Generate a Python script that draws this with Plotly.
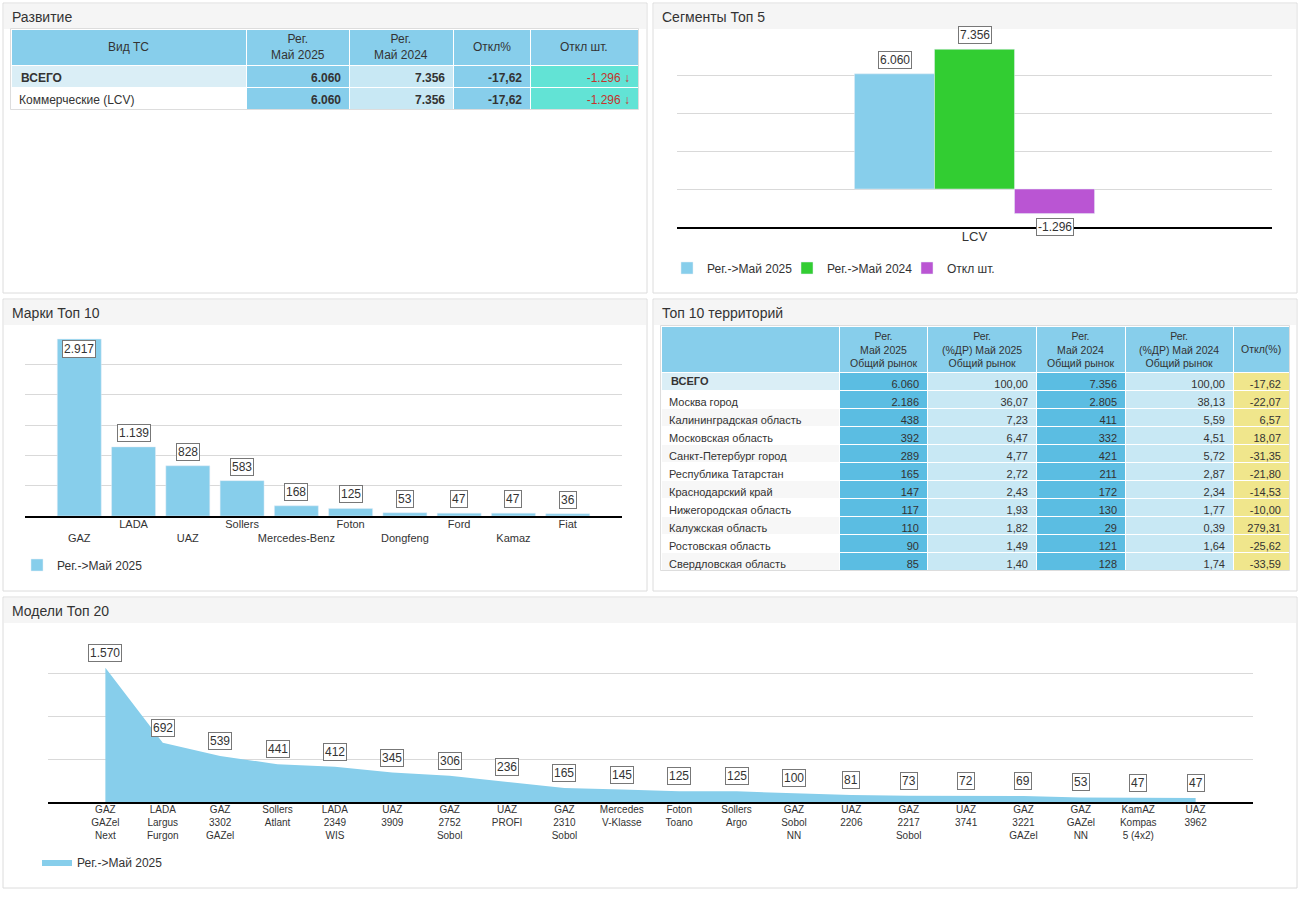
import plotly.graph_objects as go

W, H = 1300, 919
FONT = "Liberation Sans, Arial, sans-serif"
TXT = "#333333"

# ---------------- data ----------------
dev_header = ["Вид ТС", "Рег.<br>Май 2025", "Рег.<br>Май 2024", "Откл%", "Откл шт."]
dev_types = ["ВСЕГО", "Коммерческие (LCV)"]
dev_2025 = [6060, 6060]
dev_2024 = [7356, 7356]
dev_pct = [-17.62, -17.62]
dev_abs = [-1296, -1296]

seg_categories = ["LCV"]
seg_2025 = [6060]
seg_2024 = [7356]
seg_diff = [-1296]

brands = ["GAZ", "LADA", "UAZ", "Sollers", "Mercedes-Benz", "Foton", "Dongfeng", "Ford", "Kamaz", "Fiat"]
brand_values = [2917, 1139, 828, 583, 168, 125, 53, 47, 47, 36]

reg_header = ["", "Рег.<br>Май 2025<br>Общий рынок", "Рег.<br>(%ДР) Май 2025<br>Общий рынок",
              "Рег.<br>Май 2024<br>Общий рынок", "Рег.<br>(%ДР) Май 2024<br>Общий рынок", "Откл(%)"]
regions = ["ВСЕГО", "Москва город", "Калининградская область", "Московская область",
           "Санкт-Петербург город", "Республика Татарстан", "Краснодарский край",
           "Нижегородская область", "Калужская область", "Ростовская область",
           "Свердловская область"]
reg_2025 = [6060, 2186, 438, 392, 289, 165, 147, 117, 110, 90, 85]
share_2025 = [100.00, 36.07, 7.23, 6.47, 4.77, 2.72, 2.43, 1.93, 1.82, 1.49, 1.40]
reg_2024 = [7356, 2805, 411, 332, 421, 211, 172, 130, 29, 121, 128]
share_2024 = [100.00, 38.13, 5.59, 4.51, 5.72, 2.87, 2.34, 1.77, 0.39, 1.64, 1.74]
reg_pct = [-17.62, -22.07, 6.57, 18.07, -31.35, -21.80, -14.53, -10.00, 279.31, -25.62, -33.59]

models = ["GAZ<br>GAZel<br>Next", "LADA<br>Largus<br>Furgon", "GAZ<br>3302<br>GAZel",
          "Sollers<br>Atlant", "LADA<br>2349<br>WIS", "UAZ<br>3909", "GAZ<br>2752<br>Sobol",
          "UAZ<br>PROFI", "GAZ<br>2310<br>Sobol", "Mercedes<br>V-Klasse", "Foton<br>Toano",
          "Sollers<br>Argo", "GAZ<br>Sobol<br>NN", "UAZ<br>2206", "GAZ<br>2217<br>Sobol",
          "UAZ<br>3741", "GAZ<br>3221<br>GAZel", "GAZ<br>GAZel<br>NN",
          "KamAZ<br>Kompas<br>5 (4x2)", "UAZ<br>3962"]
model_values = [1570, 692, 539, 441, 412, 345, 306, 236, 165, 145, 125, 125, 100, 81, 73, 72, 69, 53, 47, 47]

legend_2025 = "Рег.->Май 2025"
legend_2024 = "Рег.->Май 2024"
legend_diff = "Откл шт."


# ---------------- helpers ----------------
def fx(x):
    return x / W


def fy(y):
    return 1 - y / H


def fint(v):
    return f"{v:,}".replace(",", ".")


def fdec(v):
    return f"{v:,.2f}".replace(",", " ").replace(".", ",").replace(" ", ".")


SKY = "#87CEEB"
MID = "#5BBDE2"
LIGHT = "#C8E8F4"
PALE = "#DAEEF6"
TURQ = "#62E3D5"
KHAKI = "#F0E68C"
RED = "#C4342D"
GRID = "#d9d9d9"

fig = go.Figure()
shapes = []
annotations = []

# ---------------- panels ----------------
panels = [(3, 3, 647, 293, "Развитие"),
          (653, 3, 1297, 293, "Сегменты Топ 5"),
          (3, 299, 647, 591, "Марки Топ 10"),
          (653, 299, 1297, 591, "Топ 10 территорий"),
          (3, 597, 1297, 888, "Модели Топ 20")]
for x0, y0, x1, y1, title in panels:
    shapes.append(dict(type="rect", xref="paper", yref="paper", layer="below",
                       x0=fx(x0), x1=fx(x1), y0=fy(y1), y1=fy(y0),
                       fillcolor="white", line=dict(color="#dcdcdc", width=1)))
    shapes.append(dict(type="rect", xref="paper", yref="paper", layer="below",
                       x0=fx(x0 + 1), x1=fx(x1 - 1), y0=fy(y0 + 26), y1=fy(y0 + 1),
                       fillcolor="#f5f5f5", line=dict(width=0)))
    annotations.append(dict(xref="paper", yref="paper", x=fx(x0 + 7), y=fy(y0 + 14),
                            xanchor="left", yanchor="middle", showarrow=False,
                            text=title, font=dict(family=FONT, size=14, color=TXT)))


def header_labels(labels, left, widths, top, height, size):
    """Header captions, vertically centred in the header band."""
    x = left
    for lab, w in zip(labels, widths):
        if lab:
            annotations.append(dict(xref="paper", yref="paper", x=fx(x + w / 2),
                                    y=fy(top + height / 2), xanchor="center", yanchor="middle",
                                    showarrow=False, text=lab, align="center",
                                    font=dict(family=FONT, size=size, color=TXT)))
        x += w


# ---------------- table 1 ----------------
n1 = len(dev_types)
T1_LEFT, T1_TOP, T1_HEAD, T1_ROW = 11, 29, 36, 22
T1_W = [235, 103, 104, 77, 108]
fig.add_trace(go.Table(
    domain=dict(x=[fx(T1_LEFT), fx(T1_LEFT + sum(T1_W))], y=[fy(200), fy(T1_TOP)]),
    columnwidth=T1_W,
    header=dict(values=[""] * len(T1_W), fill_color=SKY, height=T1_HEAD,
                line=dict(color="white", width=1), font=dict(family=FONT, size=12, color=TXT)),
    cells=dict(values=[[""] + dev_types[1:],
                       [fint(v) for v in dev_2025],
                       [fint(v) for v in dev_2024],
                       [fdec(v) for v in dev_pct],
                       [f"{fint(v)} ↓" for v in dev_abs]],
               fill_color=[[PALE] + ["white"] * (n1 - 1), [SKY] * n1, [LIGHT] * n1, [SKY] * n1, [TURQ] * n1],
               align=["left", "right", "right", "right", "right"],
               height=T1_ROW, line=dict(color="white", width=1),
               font=dict(family=FONT, size=12,
                         weight=["normal", "bold", "bold", "bold", "normal"],
                         color=[[TXT] * n1] * 4 + [[RED] * n1]))
))
header_labels(dev_header, T1_LEFT, T1_W, T1_TOP, T1_HEAD, 12)
# bold total label
annotations.append(dict(xref="paper", yref="paper", x=fx(T1_LEFT + 8), y=fy(T1_TOP + T1_HEAD + T1_ROW / 2 + 1.5),
                        xanchor="left", yanchor="middle", showarrow=False, text=f"<b>{dev_types[0]}</b>",
                        font=dict(family=FONT, size=12, color=TXT)))

# ---------------- table 2 ----------------
n2 = len(regions)
T2_LEFT, T2_TOP, T2_HEAD, T2_ROW = 661, 326, 46, 18
T2_W = [178, 88, 109, 89, 108, 56]
name_fill = [PALE] + [("white" if i % 2 == 0 else "#f7f7f7") for i in range(n2 - 1)]
fig.add_trace(go.Table(
    domain=dict(x=[fx(T2_LEFT), fx(T2_LEFT + sum(T2_W))], y=[fy(585), fy(T2_TOP)]),
    columnwidth=T2_W,
    header=dict(values=[""] * len(T2_W), fill_color=SKY, height=T2_HEAD,
                line=dict(color="white", width=1), font=dict(family=FONT, size=10, color=TXT)),
    cells=dict(values=[[""] + regions[1:],
                       [fint(v) for v in reg_2025],
                       [fdec(v) for v in share_2025],
                       [fint(v) for v in reg_2024],
                       [fdec(v) for v in share_2024],
                       [fdec(v) for v in reg_pct]],
               fill_color=[name_fill, [MID] * n2, [LIGHT] * n2, [MID] * n2, [LIGHT] * n2, [KHAKI] * n2],
               align=["left", "right", "right", "right", "right", "right"],
               height=T2_ROW, line=dict(color="white", width=1),
               font=dict(family=FONT, size=11, color=TXT))
))
header_labels(reg_header, T2_LEFT, T2_W, T2_TOP, T2_HEAD, 10.5)
annotations.append(dict(xref="paper", yref="paper", x=fx(T2_LEFT + 8), y=fy(T2_TOP + T2_HEAD + T2_ROW / 2),
                        xanchor="left", yanchor="middle", showarrow=False, text=f"<b>{regions[0]}</b>",
                        font=dict(family=FONT, size=11, color=TXT)))

# ---------------- chart 2: segments ----------------
bar_w = 0.1345
seg_series = [(seg_2025, legend_2025, SKY), (seg_2024, legend_2024, "#32CD32"), (seg_diff, legend_diff, "#BA55D3")]
for i, (vals, name, col) in enumerate(seg_series):
    fig.add_trace(go.Bar(x=seg_categories, y=vals, name=name, marker_color=col,
                         width=bar_w, offset=(i - 1.5) * bar_w,
                         xaxis="x2", yaxis="y2", legend="legend2", hoverinfo="skip"))
    for c, v in zip(seg_categories, vals):
        annotations.append(dict(xref="x2", yref="y2", x=c, y=v, showarrow=False,
                                xshift=(i - 1) * 80, yshift=5 if v >= 0 else -4,
                                yanchor="bottom" if v >= 0 else "top",
                                text=fint(v), bgcolor="white", bordercolor="#777",
                                borderwidth=1, borderpad=1,
                                font=dict(family=FONT, size=12, color=TXT)))

# ---------------- chart 3: brands ----------------
brand_ticks = [(" <br>" + b) if i % 2 == 0 else b for i, b in enumerate(brands)]
fig.add_trace(go.Bar(x=brands, y=brand_values, name=legend_2025, marker_color=SKY,
                     width=0.81, xaxis="x3", yaxis="y3", legend="legend3", hoverinfo="skip"))
y3max = 3000
for b, v in zip(brands, brand_values):
    inside = v > 0.9 * y3max
    annotations.append(dict(xref="x3", yref="y3", x=b, y=v, showarrow=False,
                            yshift=-1 if inside else 5,
                            yanchor="top" if inside else "bottom",
                            text=fint(v), bgcolor="white", bordercolor="#777",
                            borderwidth=1, borderpad=1,
                            font=dict(family=FONT, size=12, color=TXT)))

# ---------------- chart 5: models ----------------
fig.add_trace(go.Scatter(x=models, y=model_values, name=legend_2025, mode="lines",
                         fill="tozeroy", fillcolor=SKY, line=dict(width=0, color=SKY),
                         xaxis="x5", yaxis="y5", legend="legend5", hoverinfo="skip"))
for m, v in zip(models, model_values):
    annotations.append(dict(xref="x5", yref="y5", x=m, y=v, showarrow=False,
                            yshift=6, yanchor="bottom",
                            text=fint(v), bgcolor="white", bordercolor="#777",
                            borderwidth=1, borderpad=1,
                            font=dict(family=FONT, size=12, color=TXT)))

# table border outlines
shapes.append(dict(type="rect", xref="paper", yref="paper", layer="above",
                   x0=fx(T1_LEFT - 0.5), x1=fx(T1_LEFT + sum(T1_W) + 0.5),
                   y0=fy(T1_TOP + T1_HEAD + n1 * T1_ROW + 0.5), y1=fy(T1_TOP - 0.5),
                   line=dict(color="#dddddd", width=1)))
shapes.append(dict(type="rect", xref="paper", yref="paper", layer="above",
                   x0=fx(T2_LEFT - 0.5), x1=fx(T2_LEFT + sum(T2_W) + 0.5),
                   y0=fy(T2_TOP + T2_HEAD + n2 * T2_ROW + 0.5), y1=fy(T2_TOP - 0.5),
                   line=dict(color="#dddddd", width=1)))

axis_common = dict(showgrid=False, zeroline=False, fixedrange=True, ticklabelstandoff=-3)
yaxis_common = dict(showticklabels=False, showgrid=True, gridcolor=GRID, gridwidth=1,
                    zeroline=False, ticks="", fixedrange=True)

legend_common = dict(orientation="h", bgcolor="rgba(0,0,0,0)", xanchor="left", yanchor="middle",
                     font=dict(family=FONT, size=12, color=TXT), itemclick=False, itemdoubleclick=False)

fig.update_layout(
    width=W, height=H, margin=dict(l=0, r=0, t=0, b=0),
    paper_bgcolor="white", plot_bgcolor="rgba(0,0,0,0)",
    font=dict(family=FONT, size=12, color=TXT),
    separators=",.",
    hovermode=False,
    barmode="overlay",
    xaxis2=dict(domain=[fx(677), fx(1272)], anchor="y2", range=[-0.5, 0.5], type="category",
                showline=True, linecolor="black", linewidth=1.5, ticks="",
                tickfont=dict(family=FONT, size=13, color=TXT), **axis_common),
    yaxis2=dict(domain=[fy(227), fy(37)], anchor="x2", range=[-2000, 8000], dtick=2000, **yaxis_common),
    xaxis3=dict(domain=[fx(25), fx(622)], anchor="y3", range=[-1, 10], type="category",
                tickvals=brands, ticktext=brand_ticks, tickangle=0,
                showline=True, linecolor="black", linewidth=1.5, ticks="",
                tickfont=dict(family=FONT, size=11, color=TXT), **axis_common),
    yaxis3=dict(domain=[fy(516), fy(334)], anchor="x3", range=[0, y3max], dtick=500, **yaxis_common),
    xaxis5=dict(domain=[fx(48), fx(1253)], anchor="y5", range=[-1, 20], type="category",
                tickangle=0, showline=True, linecolor="black", linewidth=1.5, ticks="",
                tickfont=dict(family=FONT, size=10, color=TXT), **axis_common),
    yaxis5=dict(domain=[fy(802), fy(631)], anchor="x5", range=[0, 2000], dtick=500, **yaxis_common),
    legend2=dict(x=fx(667), y=fy(268), entrywidth=75, **legend_common),
    legend3=dict(x=fx(17), y=fy(565), **legend_common),
    legend5=dict(x=fx(37), y=fy(862), **legend_common),
    shapes=shapes,
    annotations=annotations,
)

fig.write_html("out.html", config={"displayModeBar": False},
               post_script="document.body.style.margin='0';")
